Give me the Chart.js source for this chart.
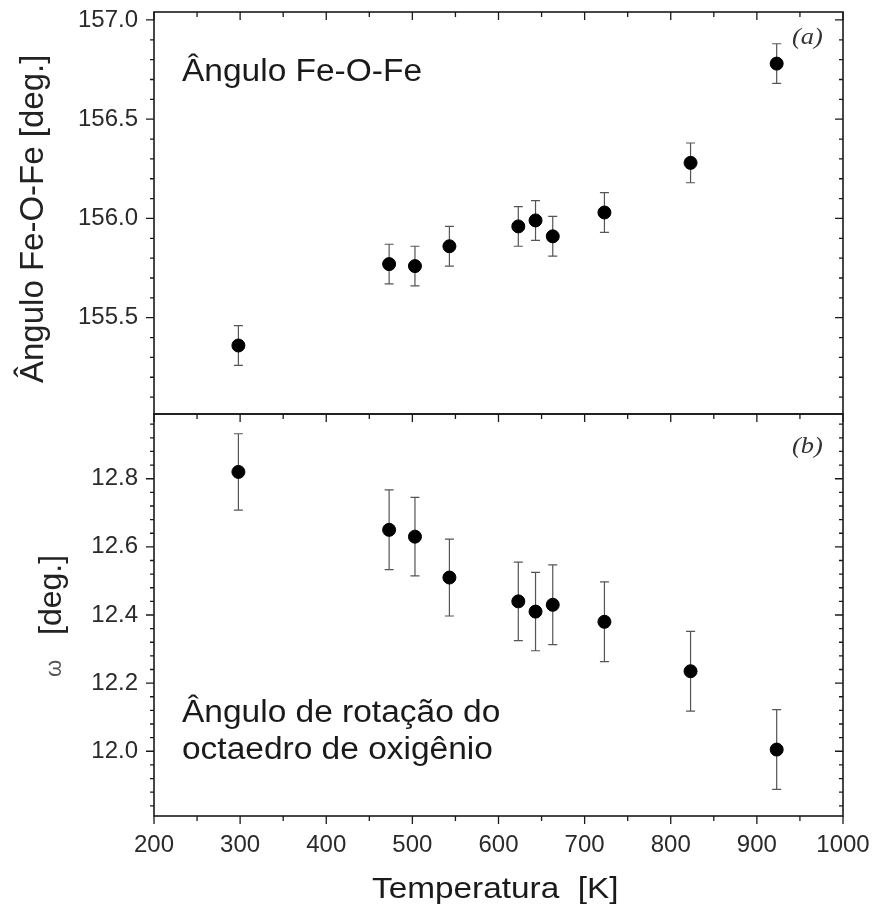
<!DOCTYPE html>
<html>
<head>
<meta charset="utf-8">
<script src="https://cdn.jsdelivr.net/npm/chart.js@4.4.0/dist/chart.umd.min.js"></script>
<style>
  body { margin: 0; background: #fff; }
  canvas { display: block; }
</style>
</head>
<body>
<canvas id="canvas" width="878" height="911"></canvas>
<script>
// temperatures [K]
const temperatures = [298, 473, 503, 543, 623, 643, 663, 723, 823, 923];
// (a) Fe-O-Fe angle [deg.]
const angleFeOFe    = [155.36, 155.77, 155.76, 155.86, 155.96, 155.99, 155.91, 156.03, 156.28, 156.78];
const angleFeOFeErr = [0.10, 0.10, 0.10, 0.10, 0.10, 0.10, 0.10, 0.10, 0.10, 0.10];
// (b) rotation angle omega [deg.]
const omega    = [12.82, 12.65, 12.63, 12.51, 12.44, 12.41, 12.43, 12.38, 12.235, 12.005];
const omegaErr = [0.112, 0.117, 0.115, 0.113, 0.115, 0.115, 0.117, 0.117, 0.117, 0.117];

const xTicks = [200, 300, 400, 500, 600, 700, 800, 900, 1000];
const topTicks = [155.5, 156.0, 156.5, 157.0];
const bottomTicks = [12.0, 12.2, 12.4, 12.6, 12.8];

function stretchText(ctx, str, x, y, font, sx, align) {
  ctx.save();
  ctx.font = font;
  ctx.textAlign = align || 'left';
  ctx.textBaseline = 'alphabetic';
  ctx.translate(x, y);
  ctx.scale(sx, 1);
  ctx.fillText(str, 0, 0);
  ctx.restore();
}

function rotText(ctx, str, x, y, font, color) {
  ctx.save();
  ctx.font = font;
  ctx.fillStyle = color || '#222';
  ctx.textAlign = 'left';
  ctx.textBaseline = 'alphabetic';
  ctx.translate(x, y);
  ctx.rotate(-Math.PI / 2);
  ctx.fillText(str, 0, 0);
  ctx.restore();
}

const panelPlugin = {
  id: 'panels',
  beforeDatasetsDraw(chart) {
    const ctx = chart.ctx;
    const xs = chart.scales.x;
    const sets = [[chart.scales.yTop, angleFeOFe, angleFeOFeErr], [chart.scales.yBot, omega, omegaErr]];
    ctx.save();
    ctx.strokeStyle = '#555';
    ctx.lineWidth = 1.2;
    sets.forEach(([ys, vals, errs]) => {
      vals.forEach((v, i) => {
        const x = xs.getPixelForValue(temperatures[i]);
        const y1 = ys.getPixelForValue(v + errs[i]);
        const y2 = ys.getPixelForValue(v - errs[i]);
        ctx.beginPath();
        ctx.moveTo(x, y1); ctx.lineTo(x, y2);
        ctx.moveTo(x - 4.5, y1); ctx.lineTo(x + 4.5, y1);
        ctx.moveTo(x - 4.5, y2); ctx.lineTo(x + 4.5, y2);
        ctx.stroke();
      });
    });
    ctx.restore();
  },
  afterDraw(chart) {
    const ctx = chart.ctx;
    const xs = chart.scales.x, yt = chart.scales.yTop, yb = chart.scales.yBot;
    const L = xs.left, R = xs.right;
    ctx.save();
    ctx.strokeStyle = '#1a1a1a';
    ctx.lineWidth = 1.6;
    // frames
    ctx.strokeRect(L, yt.top, R - L, yt.bottom - yt.top);
    ctx.strokeRect(L, yb.top, R - L, yb.bottom - yb.top);
    ctx.lineWidth = 1.3;
    ctx.beginPath();
    // x ticks
    for (let v = 200; v <= 1000; v += 50) {
      const x = xs.getPixelForValue(v);
      const major = v % 100 === 0;
      const len = major ? 8 : 5;
      ctx.moveTo(x, yt.top); ctx.lineTo(x, yt.top + len);
      ctx.moveTo(x, yb.top); ctx.lineTo(x, yb.top + len);
      ctx.moveTo(x, yb.bottom); ctx.lineTo(x, yb.bottom + len);
    }
    // y ticks
    const yTicks = (ys, step, majors) => {
      const n0 = Math.ceil(ys.min / step - 1e-6), n1 = Math.floor(ys.max / step + 1e-6);
      for (let n = n0; n <= n1; n++) {
        const v = n * step;
        const y = ys.getPixelForValue(v);
        const major = majors.some(m => Math.abs(m - v) < 1e-6);
        const len = major ? 8 : 4;
        ctx.moveTo(L, y); ctx.lineTo(L - len, y);
        ctx.moveTo(R, y); ctx.lineTo(R - len, y);
      }
    };
    yTicks(yt, 0.1, topTicks);
    yTicks(yb, 0.04, bottomTicks);
    ctx.stroke();

    // texts
    ctx.fillStyle = '#1a1a1a';
    stretchText(ctx, 'Ângulo Fe-O-Fe', 182, 81, '31px "Liberation Sans", Arial, sans-serif', 1.08);
    stretchText(ctx, 'Ângulo de rotação do', 182, 722, '31px "Liberation Sans", Arial, sans-serif', 1.08);
    stretchText(ctx, 'octaedro de oxigênio', 182, 759, '31px "Liberation Sans", Arial, sans-serif', 1.08);
    ctx.fillStyle = '#333';
    stretchText(ctx, '(a)', 792, 44, 'italic 23px "Liberation Serif", "Times New Roman", serif', 1.15);
    stretchText(ctx, '(b)', 792, 453, 'italic 23px "Liberation Serif", "Times New Roman", serif', 1.15);
    ctx.fillStyle = '#1a1a1a';
    stretchText(ctx, 'Temperatura  [K]', 372, 898, '29px "Liberation Sans", Arial, sans-serif', 1.15);
    rotText(ctx, 'Ângulo Fe-O-Fe [deg.]', 43, 383, '33px "Liberation Sans", Arial, sans-serif');
    rotText(ctx, 'ω', 61, 677, '22px "Liberation Sans", Arial, sans-serif', '#555');
    rotText(ctx, '[deg.]', 61, 635, '32px "Liberation Sans", Arial, sans-serif');
    ctx.restore();
  }
};

const tickFont = { family: '"Liberation Sans", Arial, sans-serif', size: 24 };

const fitY = s => { s.width = 154; s.paddingTop = 0; s.paddingBottom = 0; };

const data = {
  datasets: [
    {
      label: 'Ângulo Fe-O-Fe',
      yAxisID: 'yTop',
      data: temperatures.map((t, i) => ({ x: t, y: angleFeOFe[i] })),
      backgroundColor: '#000',
      borderColor: '#000',
      pointRadius: 6.5,
      pointHoverRadius: 6.5,
      showLine: false
    },
    {
      label: 'ω',
      yAxisID: 'yBot',
      data: temperatures.map((t, i) => ({ x: t, y: omega[i] })),
      backgroundColor: '#000',
      borderColor: '#000',
      pointRadius: 6.5,
      pointHoverRadius: 6.5,
      showLine: false
    }
  ]
};

const config = {
  type: 'scatter',
  data: data,
  options: {
    responsive: false,
    animation: false,
    devicePixelRatio: 1,
    layout: { padding: { top: 12, right: 35, left: 0, bottom: 0 } },
    plugins: { legend: { display: false }, tooltip: { enabled: false } },
    scales: {
      x: {
        type: 'linear',
        min: 200, max: 1000,
        grid: { display: false, drawTicks: false },
        border: { display: false },
        afterBuildTicks: s => { s.ticks = xTicks.map(v => ({ value: v })); },
        afterFit: s => { s.height = 95; s.paddingLeft = 0; s.paddingRight = 0; },
        ticks: { font: tickFont, color: '#2a2a2a', padding: 15, maxRotation: 0, callback: v => String(v) }
      },
      // the later one in the left stack goes on top
      yBot: {
        type: 'linear',
        position: 'left',
        stack: 'panels',
        stackWeight: 1,
        min: 11.81, max: 12.99,
        grid: { display: false, drawTicks: false },
        border: { display: false },
        afterBuildTicks: s => { s.ticks = bottomTicks.map(v => ({ value: v })); },
        afterFit: fitY,
        ticks: { font: tickFont, color: '#2a2a2a', padding: 16, callback: v => v.toFixed(1) }
      },
      yTop: {
        type: 'linear',
        position: 'left',
        stack: 'panels',
        stackWeight: 1,
        min: 155.015, max: 157.04,
        grid: { display: false, drawTicks: false },
        border: { display: false },
        afterBuildTicks: s => { s.ticks = topTicks.map(v => ({ value: v })); },
        afterFit: fitY,
        ticks: { font: tickFont, color: '#2a2a2a', padding: 16, callback: v => v.toFixed(1) }
      }
    }
  },
  plugins: [panelPlugin]
};

const canvas = document.getElementById('canvas');
const chart = new Chart(canvas, config);
</script>
</body>
</html>
